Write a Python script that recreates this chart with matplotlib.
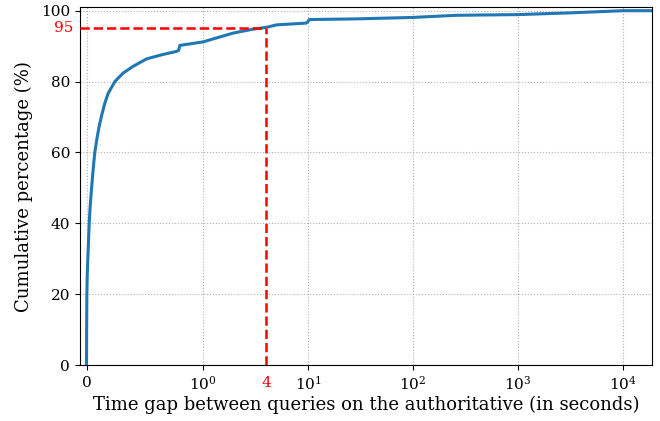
import numpy as np
import matplotlib
matplotlib.use("Agg")
import matplotlib.pyplot as plt
from matplotlib.ticker import FixedLocator, NullLocator
import matplotlib.transforms as mtransforms

# =========================================================
# Datos (CDF de intervalos entre consultas)
# =========================================================

gap_seconds = [
    0.0, 0.001, 0.003, 0.006, 0.011, 0.016, 0.023, 0.031, 0.040, 0.055,
    0.071, 0.090, 0.108, 0.130, 0.157, 0.186, 0.243, 0.314, 0.40, 0.515,
    0.65, 0.77, 0.79, 0.80, 0.90, 1.0, 1.3, 1.94, 3.0, 4.0,
    5.0, 9.6, 10.0, 10.3, 30.0, 100.0, 258.0, 1000.0, 3200.0, 10000.0,
    19000.0,
]

cumulative_pct = [
    0.0, 10.0, 20.0, 25.0, 29.7, 34.0, 40.0, 44.5, 48.5, 54.5,
    60.0, 64.0, 67.3, 70.5, 73.9, 76.7, 80.0, 82.4, 84.3, 86.4,
    87.6, 88.5, 88.8, 90.2, 90.7, 91.2, 92.2, 93.7, 94.8, 95.3,
    96.0, 96.5, 97.0, 97.5, 97.7, 98.1, 98.7, 98.9, 99.4, 100.0,
    100.0,
]

x_ticks = [0, 1, 10, 100, 1000, 10000]
y_ticks = [0, 20, 40, 60, 80, 100]

threshold_pct = 95
threshold_gap = 4

# =========================================================
# Figura
# =========================================================

plt.rcParams["font.family"] = "DejaVu Serif"

fig = plt.figure(figsize=(6.6, 4.21), dpi=100)
ax = fig.add_axes([0.121, 0.133, 0.867, 0.85])

ax.plot(gap_seconds, cumulative_pct, color="#1f77b4", linewidth=2.2, zorder=3)

ax.set_xscale("symlog", linthresh=1)
ax.set_xlim(-0.057, 18900)
ax.set_ylim(0, 101)

ax.xaxis.set_major_locator(FixedLocator(x_ticks))
ax.xaxis.set_minor_locator(NullLocator())
ax.set_yticks(y_ticks)

# =========================================================
# Umbral 95 % / 4 s
# =========================================================

ax.plot([-0.057, threshold_gap], [threshold_pct, threshold_pct],
        color="red", linestyle="--", linewidth=1.8, zorder=4)
ax.plot([threshold_gap, threshold_gap], [0, threshold_pct],
        color="red", linestyle="--", linewidth=1.8, zorder=4)

ax.text(-0.012, threshold_pct, str(threshold_pct), color="red",
        fontsize=11, ha="right", va="center",
        transform=mtransforms.blended_transform_factory(ax.transAxes, ax.transData))
ax.text(threshold_gap, -0.03, str(threshold_gap), color="red",
        fontsize=11, ha="center", va="top",
        transform=mtransforms.blended_transform_factory(ax.transData, ax.transAxes))

# =========================================================
# Configuración visual
# =========================================================

ax.grid(True, linestyle=":", color="#b0b0b0", linewidth=0.8)
ax.tick_params(labelsize=11)

ax.set_xlabel("Time gap between queries on the authoritative (in seconds)",
              fontsize=13, labelpad=2)
ax.set_ylabel("Cumulative percentage (%)", fontsize=13, labelpad=6)

fig.savefig("out.png", dpi=100)
